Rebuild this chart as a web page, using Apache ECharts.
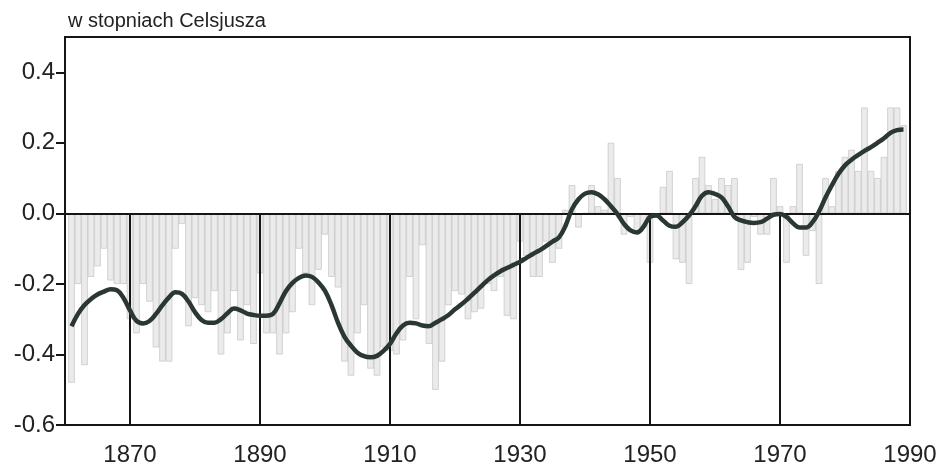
<!DOCTYPE html>
<html>
<head>
<meta charset="utf-8">
<script src="https://cdn.jsdelivr.net/npm/echarts@6/dist/echarts.min.js"></script>
<style>
  html, body { margin: 0; padding: 0; background: #fff; }
  #chart { width: 936px; height: 463px; }
</style>
</head>
<body>
<div id="chart"></div>
<script>
// Annual temperature anomalies, one value per year starting at firstYear
const firstYear = 1861;
const anomalies = [
  -0.48, -0.20, -0.43, -0.18, -0.15, -0.10, -0.19, -0.20, -0.20, -0.30,
  -0.34, -0.20, -0.25, -0.38, -0.42, -0.42, -0.10, -0.03, -0.32, -0.24,
  -0.26, -0.28, -0.22, -0.40, -0.34, -0.22, -0.36, -0.26, -0.37, -0.17,
  -0.34, -0.34, -0.40, -0.34, -0.28, -0.10, -0.17, -0.26, -0.16, -0.06,
  -0.18, -0.21, -0.42, -0.46, -0.34, -0.26, -0.44, -0.46, -0.38, -0.39,
  -0.40, -0.36, -0.18, -0.30, -0.09, -0.37, -0.50, -0.42, -0.26, -0.22,
  -0.23, -0.30, -0.28, -0.27, -0.20, -0.22, -0.18, -0.29, -0.30, -0.08,
  -0.12, -0.18, -0.18, -0.08, -0.14, -0.10, 0.01, 0.08, -0.04, 0.00,
  0.08, 0.02, 0.01, 0.20, 0.10, -0.06, -0.01, -0.05, -0.04, -0.14,
  -0.01, 0.075, 0.12, -0.13, -0.14, -0.20, 0.10, 0.16, 0.08, 0.04,
  0.10, 0.08, 0.10, -0.16, -0.14, -0.01, -0.06, -0.06, 0.10, 0.02,
  -0.14, 0.02, 0.14, -0.12, -0.05, -0.20, 0.10, 0.02, 0.12, 0.16,
  0.18, 0.12, 0.30, 0.12, 0.10, 0.16, 0.30, 0.30, 0.25
];

// Smoothed trend curve, same years
const smoothed = [
  -0.32, -0.285, -0.26, -0.243, -0.23, -0.222, -0.215, -0.218, -0.24, -0.275,
  -0.305, -0.312, -0.305, -0.285, -0.26, -0.238, -0.224, -0.228, -0.25, -0.28,
  -0.302, -0.31, -0.31, -0.30, -0.283, -0.27, -0.275, -0.284, -0.288, -0.29,
  -0.29, -0.285, -0.255, -0.22, -0.197, -0.183, -0.176, -0.18, -0.196, -0.22,
  -0.26, -0.31, -0.35, -0.375, -0.395, -0.405, -0.408, -0.404, -0.39, -0.37,
  -0.34, -0.318, -0.31, -0.312, -0.318, -0.32, -0.31, -0.30, -0.288, -0.272,
  -0.258, -0.242, -0.225, -0.207, -0.19, -0.176, -0.164, -0.155, -0.146, -0.137,
  -0.126, -0.115, -0.105, -0.093, -0.08, -0.068, -0.035, 0.012, 0.04, 0.056,
  0.06, 0.054, 0.04, 0.02, -0.002, -0.03, -0.048, -0.054, -0.038, -0.01,
  -0.006, -0.02, -0.035, -0.038, -0.025, -0.006, 0.02, 0.05, 0.06, 0.055,
  0.045, 0.02, -0.01, -0.02, -0.025, -0.027, -0.025, -0.015, -0.004, -0.002,
  -0.01, -0.028, -0.04, -0.04, -0.025, 0.005, 0.045, 0.08, 0.112, 0.136,
  0.152, 0.165, 0.177, 0.188, 0.20, 0.213, 0.228, 0.236, 0.238
];

const yearTicks = [1870, 1890, 1910, 1930, 1950, 1970, 1990];
const valueTicks = [-0.6, -0.4, -0.2, 0.0, 0.2, 0.4];
const unitLabel = 'w stopniach Celsjusza';

const xMin = 1860, xMax = 1990;
const yMin = -0.6, yMax = 0.5;

const barData = anomalies.map((v, i) => [firstYear + i, v]);
const curveData = smoothed.map((v, i) => [firstYear + i, v]);

// Decade guides rise from the axis up to the zero line
const guides = yearTicks
  .filter(y => y < xMax)
  .map(y => [{ coord: [y, yMin] }, { coord: [y, 0] }]);

const ink = '#151515';
const font = 'Liberation Sans, Arial, Helvetica, sans-serif';

const chart = echarts.init(document.getElementById('chart'), null, { renderer: 'canvas' });
chart.setOption({
  animation: false,
  backgroundColor: '#fff',
  title: {
    text: unitLabel,
    left: 63,
    top: 6,
    textStyle: { fontFamily: font, fontSize: 20, fontWeight: 'normal', color: '#222' }
  },
  grid: {
    left: 65, right: 26, top: 37, bottom: 38,
    outerBoundsMode: 'none',
    show: true, borderColor: ink, borderWidth: 2, backgroundColor: 'transparent'
  },
  xAxis: {
    type: 'value',
    min: xMin, max: xMax,
    axisLine: { show: true, lineStyle: { color: ink, width: 2 } },
    axisTick: { show: true, customValues: yearTicks, length: 8, lineStyle: { color: ink, width: 2 } },
    axisLabel: {
      customValues: yearTicks,
      fontFamily: font, fontSize: 24, color: '#222', margin: 18,
      formatter: v => String(v)
    },
    splitLine: { show: false }
  },
  yAxis: {
    type: 'value',
    min: yMin, max: yMax,
    axisLine: { show: true, lineStyle: { color: ink, width: 2 } },
    axisTick: { show: true, customValues: valueTicks, length: 9, lineStyle: { color: ink, width: 2 } },
    axisLabel: {
      customValues: valueTicks,
      fontFamily: font, fontSize: 24, color: '#222', margin: 10,
      formatter: v => (Math.abs(v) < 1e-9 ? 0 : v).toFixed(1)
    },
    splitLine: { show: false }
  },
  series: [
    {
      type: 'bar',
      data: barData,
      barWidth: 6.5,
      itemStyle: { color: '#ebebeb', borderColor: '#c4c4c4', borderWidth: 0.7 },
      markLine: {
        silent: true,
        symbol: ['none', 'none'],
        label: { show: false },
        lineStyle: { color: ink, width: 2, type: 'solid' },
        data: [{ yAxis: 0 }].concat(guides)
      },
      z: 2
    },
    {
      type: 'line',
      data: curveData,
      smooth: 0.4,
      showSymbol: false,
      lineStyle: { color: '#2b3832', width: 4.5 },
      z: 5
    }
  ]
});
</script>
</body>
</html>
